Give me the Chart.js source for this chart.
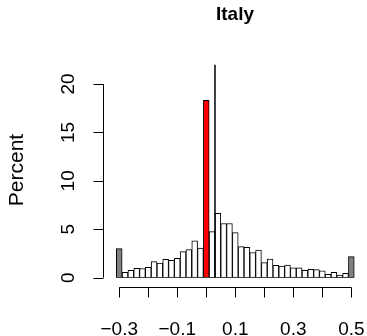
<!DOCTYPE html>
<html>
<head>
<meta charset="utf-8">
<script src="https://cdn.jsdelivr.net/npm/chart.js@4/dist/chart.umd.min.js"></script>
<style>
  html, body { margin: 0; padding: 0; background: #fff; }
  #wrap { width: 367px; height: 336px; }
</style>
</head>
<body>
<div id="wrap"><canvas id="histChart" width="367" height="336"></canvas></div>
<script>
// bin centres of the histogram (width 0.02)
const binCenters = [
  -0.30, -0.28, -0.26, -0.24, -0.22, -0.20, -0.18, -0.16, -0.14, -0.12,
  -0.10, -0.08, -0.06, -0.04, -0.02, 0.00, 0.02, 0.04, 0.06, 0.08,
  0.10, 0.12, 0.14, 0.16, 0.18, 0.20, 0.22, 0.24, 0.26, 0.28,
  0.30, 0.32, 0.34, 0.36, 0.38, 0.40, 0.42, 0.44, 0.46, 0.48, 0.50
];
// percent of observations in each bin
const percents = [
  3.0, 0.55, 0.76, 0.97, 0.95, 1.07, 1.66, 1.5, 1.9, 1.8,
  2.0, 2.7, 2.9, 3.8, 3.05, 18.3, 4.76, 6.65, 5.6, 5.6,
  4.66, 3.2, 3.14, 2.6, 2.86, 1.55, 1.93, 1.28, 1.2, 1.3,
  1.03, 1.03, 0.76, 0.86, 0.83, 0.72, 0.34, 0.55, 0.28, 0.45, 2.17
];
// vertical reference line
const refLineX = 0.03;

const xTicks = [-0.3, -0.2, -0.1, 0.0, 0.1, 0.2, 0.3, 0.4, 0.5];
const xTickLabels = ['\u22120.3', '\u22120.1', '0.1', '0.3', '0.5'];
const xLabelValues = [-0.3, -0.1, 0.1, 0.3, 0.5];
const yTicks = [0, 5, 10, 15, 20];

const FONT = '"Liberation Sans", Arial, Helvetica, sans-serif';

// first and last bins hold the tails (grey), the zero bin is highlighted
function barColor(i) {
  if (i === 0 || i === binCenters.length - 1) return '#808080';
  if (binCenters[i] === 0) return '#ff0000';
  return '#ffffff';
}

// R style axes, drawn from the chart scales
const rAxes = {
  id: 'rAxes',
  afterDraw(chart) {
    const ctx = chart.ctx;
    const xs = chart.scales.x, ys = chart.scales.y;
    const area = chart.chartArea;
    ctx.save();
    ctx.strokeStyle = '#000';
    ctx.fillStyle = '#000';
    ctx.lineWidth = 1;

    // x axis
    const axY = Math.round(area.bottom + 9) + 0.5;
    ctx.beginPath();
    ctx.moveTo(xs.getPixelForValue(xTicks[0]), axY);
    ctx.lineTo(xs.getPixelForValue(xTicks[xTicks.length - 1]), axY);
    xTicks.forEach(v => {
      const px = Math.round(xs.getPixelForValue(v)) + 0.5;
      ctx.moveTo(px, axY);
      ctx.lineTo(px, axY + 10);
    });
    ctx.stroke();
    ctx.font = '19px ' + FONT;
    ctx.textAlign = 'center';
    ctx.textBaseline = 'alphabetic';
    xLabelValues.forEach((v, i) => {
      ctx.fillText(xTickLabels[i], xs.getPixelForValue(v), 335);
    });

    // y axis
    const axX = Math.round(area.left) + 0.5;
    ctx.beginPath();
    ctx.moveTo(axX, ys.getPixelForValue(yTicks[0]));
    ctx.lineTo(axX, ys.getPixelForValue(yTicks[yTicks.length - 1]));
    yTicks.forEach(v => {
      const py = Math.round(ys.getPixelForValue(v)) + 0.5;
      ctx.moveTo(axX, py);
      ctx.lineTo(axX - 10, py);
    });
    ctx.stroke();
    yTicks.forEach(v => {
      ctx.save();
      ctx.translate(74, ys.getPixelForValue(v));
      ctx.rotate(-Math.PI / 2);
      ctx.fillText(String(v), 0, 0);
      ctx.restore();
    });

    // y axis title
    ctx.save();
    ctx.font = '21px ' + FONT;
    ctx.translate(23, 170);
    ctx.rotate(-Math.PI / 2);
    ctx.fillText('Percent', 0, 0);
    ctx.restore();

    ctx.restore();
  }
};

const ctx = document.getElementById('histChart').getContext('2d');
const histChart = new Chart(ctx, {
  type: 'bar',
  data: {
    datasets: [{
        type: 'line',
        data: [{x: refLineX, y: 0}, {x: refLineX, y: 22}],
        borderColor: '#000',
        borderWidth: 1.5,
        pointRadius: 0,
        fill: false
      },
      {
        data: binCenters.map((c, i) => ({x: c, y: percents[i]})),
        backgroundColor: binCenters.map((c, i) => barColor(i)),
        borderColor: '#000',
        borderWidth: 1,
        borderSkipped: false,
        barPercentage: 1,
        categoryPercentage: 1
      }
    ]
  },
  options: {
    responsive: false,
    animation: false,
    layout: {
      padding: {left: 103, right: 0, top: 0, bottom: 58.3}
    },
    scales: {
      x: {type: 'linear', min: -0.356, max: 0.554, offset: false, display: false},
      y: {min: 0, max: 22, display: false}
    },
    plugins: {
      legend: {display: false},
      tooltip: {enabled: false},
      title: {
        display: true,
        text: 'Italy',
        color: '#000',
        font: {family: FONT, size: 19, weight: 'bold', lineHeight: 1.2},
        padding: {top: 3.7, bottom: 38.1}
      }
    }
  },
  plugins: [rAxes]
});
</script>
</body>
</html>
